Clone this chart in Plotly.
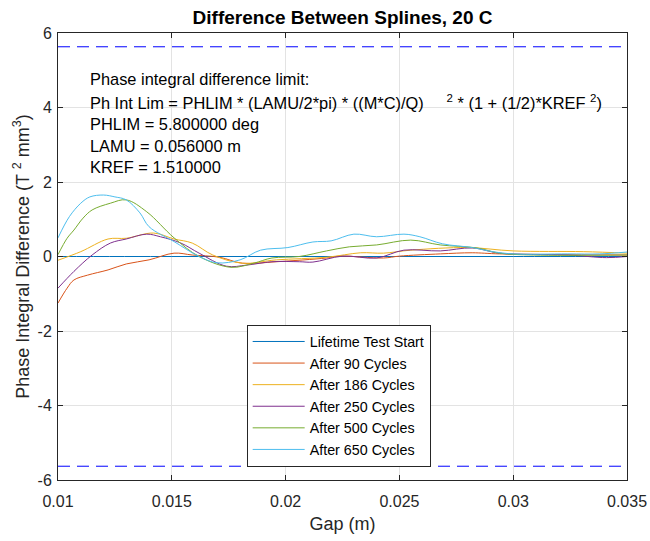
import plotly.graph_objects as go

# ---- data ----
labels = ["Lifetime Test Start", "After 90 Cycles", "After 186 Cycles",
          "After 250 Cycles", "After 500 Cycles", "After 650 Cycles"]
colors = ["#0072BD", "#D95319", "#EDB120", "#7E2F8E", "#77AC30", "#4DBEEE"]

x_start = [0.0100, 0.0150, 0.0200, 0.0250, 0.0300, 0.0350]
y_start = [0, 0, 0, 0, 0, 0]

x_90 = [0.0100, 0.0104, 0.0107, 0.0113, 0.0122, 0.0130, 0.0140, 0.0151, 0.0159, 0.0171,
        0.0181, 0.0196, 0.0218, 0.0224, 0.0243, 0.0250, 0.0268, 0.0282, 0.0294, 0.0350]
y_90 = [-1.25, -0.85, -0.63, -0.50, -0.36, -0.20, -0.09, 0.09, 0.04, -0.02,
        -0.18, -0.14, -0.04, 0.01, -0.04, 0.01, 0.07, 0.10, 0.07, 0.04]

x_186 = [0.0100, 0.0110, 0.0122, 0.0130, 0.0142, 0.0151, 0.0159, 0.0168, 0.0181, 0.0196,
         0.0218, 0.0233, 0.0243, 0.0255, 0.0280, 0.0300, 0.0331, 0.0350]
y_186 = [-0.10, 0.13, 0.47, 0.49, 0.63, 0.47, 0.36, 0.04, -0.18, -0.09,
         -0.02, 0.10, 0.09, 0.17, 0.24, 0.15, 0.13, 0.09]

x_250 = [0.0100, 0.0107, 0.0115, 0.0123, 0.0130, 0.0139, 0.0145, 0.0154, 0.0162, 0.0174,
         0.0183, 0.0194, 0.0206, 0.0212, 0.0225, 0.0240, 0.0252, 0.0268, 0.0282, 0.0294,
         0.0324, 0.0341, 0.0350]
y_250 = [-0.85, -0.40, 0.04, 0.36, 0.47, 0.60, 0.53, 0.36, 0.09, -0.26,
         -0.23, -0.14, -0.14, -0.15, 0.01, -0.04, 0.17, 0.15, 0.23, 0.09,
         0.04, -0.03, 0.00]

x_500 = [0.0100, 0.0104, 0.0107, 0.0111, 0.0115, 0.0123, 0.0130, 0.0139, 0.0151, 0.0162,
         0.0176, 0.0186, 0.0194, 0.0206, 0.0218, 0.0228, 0.0240, 0.0255, 0.0268, 0.0284,
         0.0294, 0.0309, 0.0350]
y_500 = [0.05, 0.49, 0.71, 1.03, 1.25, 1.43, 1.52, 1.20, 0.50, 0.00,
         -0.29, -0.18, -0.04, 0.00, 0.15, 0.26, 0.31, 0.44, 0.31, 0.23,
         0.09, 0.04, 0.04]

x_650 = [0.0100, 0.0105, 0.0110, 0.0114, 0.0120, 0.0125, 0.0130, 0.0136, 0.0140, 0.0151,
         0.0162, 0.0170, 0.0180, 0.0189, 0.0201, 0.0212, 0.0220, 0.0230, 0.0240, 0.0252,
         0.0259, 0.0269, 0.0282, 0.0291, 0.0300, 0.0324, 0.0338, 0.0350]
y_650 = [0.50, 1.07, 1.43, 1.60, 1.65, 1.60, 1.52, 1.17, 0.80, 0.40,
         0.00, -0.17, -0.09, 0.17, 0.24, 0.39, 0.42, 0.60, 0.53, 0.60,
         0.53, 0.34, 0.24, 0.13, 0.07, 0.07, 0.07, 0.12]

limit_x = [0.01, 0.035]
limit_val = 5.63

xs = [x_start, x_90, x_186, x_250, x_500, x_650]
ys = [y_start, y_90, y_186, y_250, y_500, y_650]

x_ticks = [0.01, 0.015, 0.02, 0.025, 0.03, 0.035]
x_ticktext = ["0.01", "0.015", "0.02", "0.025", "0.03", "0.035"]
y_ticks = [-6, -4, -2, 0, 2, 4, 6]
y_ticktext = ["-6", "-4", "-2", "0", "2", "4", "6"]

note_lines = [
    "Phase integral difference limit:",
    "Ph Int Lim = PHLIM * (LAMU/2*pi) * ((M*C)/Q)&nbsp;&nbsp;&nbsp;&nbsp;&nbsp;<sup>2</sup> * (1 + (1/2)*KREF&nbsp;<sup>2</sup>)",
    "PHLIM = 5.800000 deg",
    "LAMU = 0.056000 m",
    "KREF = 1.510000",
]
note_y = [4.765, 4.16, 3.56, 2.97, 2.39]

FONT = "Arial, Liberation Sans, sans-serif"
AX = "#262626"

fig = go.Figure()
for i in range(len(labels)):
    fig.add_trace(go.Scatter(x=xs[i], y=ys[i], mode="lines", name=labels[i],
                             line=dict(color=colors[i], width=1, shape="spline", smoothing=1.0)))

fig.add_trace(go.Scatter(x=limit_x, y=[limit_val, limit_val], mode="lines", showlegend=False,
                         line=dict(color="#0000FF", width=1, dash="12px,7px")))
fig.add_trace(go.Scatter(x=limit_x, y=[-limit_val, -limit_val], mode="lines", showlegend=False,
                         line=dict(color="#0000FF", width=1, dash="12px,7px")))

for t, yy in zip(note_lines, note_y):
    fig.add_annotation(x=0.01132, y=yy, xref="x", yref="y", text=t, showarrow=False,
                       xanchor="left", yanchor="middle",
                       font=dict(family=FONT, size=16.4, color="#000000"))

fig.update_layout(
    width=650, height=541,
    margin=dict(l=58, r=23, t=33, b=61, autoexpand=False),
    paper_bgcolor="white", plot_bgcolor="white",
    font=dict(family=FONT, size=15, color=AX),
    title=dict(text="<b>Difference Between Splines, 20 C</b>", x=0.527, xanchor="center",
               y=0.968, yanchor="middle", font=dict(family=FONT, size=19, color="#000000")),
    legend=dict(x=0.3316, y=0.0298, xanchor="left", yanchor="bottom",
                bordercolor=AX, borderwidth=1, bgcolor="white", itemwidth=52,
                font=dict(family=FONT, size=14.3, color="#000000"), tracegroupgap=0),
    showlegend=True,
)
fig.update_xaxes(range=[0.01, 0.035], tickvals=x_ticks, ticktext=x_ticktext, automargin=False,
                 showgrid=True, gridcolor="#e3e3e3", gridwidth=1, zeroline=False,
                 showline=True, linecolor=AX, linewidth=1, mirror="allticks",
                 ticks="inside", ticklen=5, tickcolor=AX, ticklabelstandoff=7,
                 tickfont=dict(family=FONT, size=16, color=AX),
                 title=dict(text="Gap (m)", font=dict(family=FONT, size=18, color=AX), standoff=8))
fig.update_yaxes(range=[-6, 6], tickvals=y_ticks, ticktext=y_ticktext, automargin=False,
                 showgrid=True, gridcolor="#e3e3e3", gridwidth=1, zeroline=False,
                 showline=True, linecolor=AX, linewidth=1, mirror="allticks",
                 ticks="inside", ticklen=5, tickcolor=AX, ticklabelstandoff=2,
                 tickfont=dict(family=FONT, size=16, color=AX),
                 title=dict(text="Phase Integral Difference (T <sup>2</sup> mm<sup>3</sup>)",
                            font=dict(family=FONT, size=18, color=AX), standoff=3))

fig.write_html("out.html")
